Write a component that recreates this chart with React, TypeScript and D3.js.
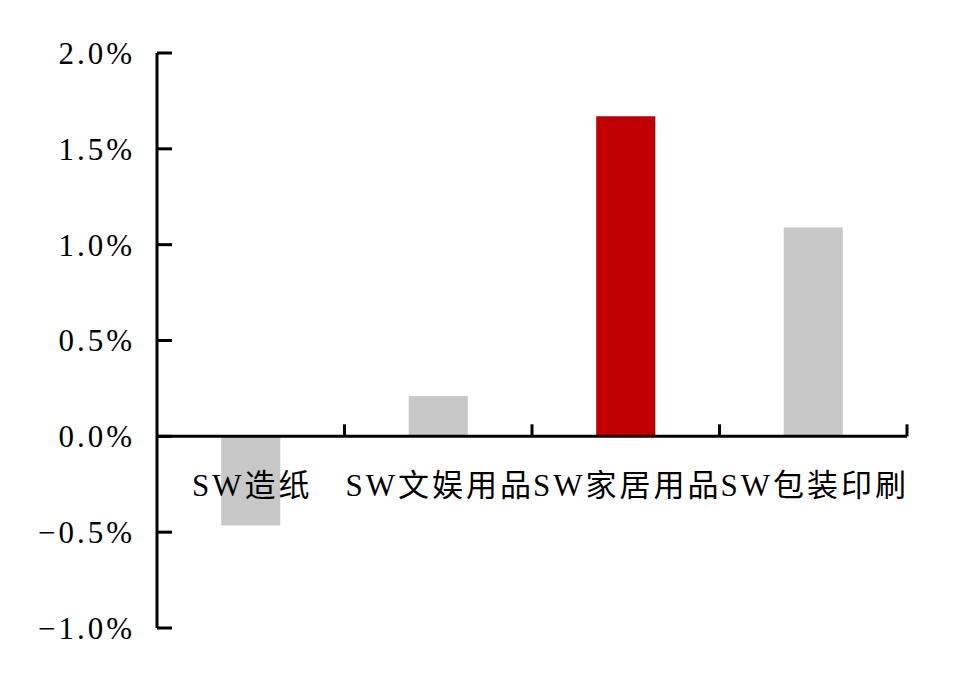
import * as d3 from "d3";

// Industry return (%) by SW sub-sector
const CATEGORIES = ["SW造纸", "SW文娱用品", "SW家居用品", "SW包装印刷"];
const VALUES = [-0.465, 0.21, 1.67, 1.09];
const HIGHLIGHT = "SW家居用品";
const Y_TICKS = [-1.0, -0.5, 0, 0.5, 1.0, 1.5, 2.0];

const W = 957;
const H = 677;
const PLOT = { left: 157, right: 907, top: 53, bottom: 628 };
const FONT = "'Liberation Serif','Noto Sans CJK SC',serif";

export default function App() {
  const y = d3.scaleLinear().domain([-1, 2]).range([PLOT.bottom, PLOT.top]);
  const x = d3.scaleBand<string>()
    .domain(CATEGORIES)
    .range([PLOT.left, PLOT.right])
    .paddingInner(0.685)
    .paddingOuter(0.3425);
  const step = (PLOT.right - PLOT.left) / CATEGORIES.length;
  const y0 = y(0);

  return (
    <svg width={W} height={H} style={{ position: "absolute", left: 0, top: 0, background: "#fff" }}>
      {/* bars */}
      {CATEGORIES.map((c, i) => {
        const v = VALUES[i];
        return (
          <rect key={c}
            x={x(c)} width={x.bandwidth()}
            y={Math.min(y(v), y0)} height={Math.abs(y(v) - y0)}
            fill={c === HIGHLIGHT ? "#c00000" : "#c8c8c8"} />
        );
      })}

      {/* y axis */}
      <line x1={PLOT.left} x2={PLOT.left} y1={PLOT.top} y2={PLOT.bottom} stroke="#000" strokeWidth={3} />
      {Y_TICKS.map((t) => (
        <g key={t}>
          <line x1={PLOT.left} x2={PLOT.left + 15} y1={y(t)} y2={y(t)} stroke="#000" strokeWidth={3} />
          <text x={135} y={y(t)} dy="0.35em" textAnchor="end"
            fontFamily={FONT} fontSize={31} letterSpacing={3} fill="#000">
            {d3.format(".1f")(t).replace("-", "−") + "%"}
          </text>
        </g>
      ))}

      {/* x axis */}
      <line x1={PLOT.left} x2={PLOT.right} y1={y0} y2={y0} stroke="#000" strokeWidth={3} />
      {CATEGORIES.map((c, i) => (
        <line key={c}
          x1={PLOT.left + step * (i + 1)} x2={PLOT.left + step * (i + 1)}
          y1={y0} y2={y0 - 12} stroke="#000" strokeWidth={3} />
      ))}
      {CATEGORIES.map((c) => (
        <text key={c} x={(x(c) ?? 0) + x.bandwidth() / 2 + 1.5} y={496}
          textAnchor="middle" fontFamily={FONT} fontSize={31} letterSpacing={3} fill="#000">
          {c}
        </text>
      ))}
    </svg>
  );
}
